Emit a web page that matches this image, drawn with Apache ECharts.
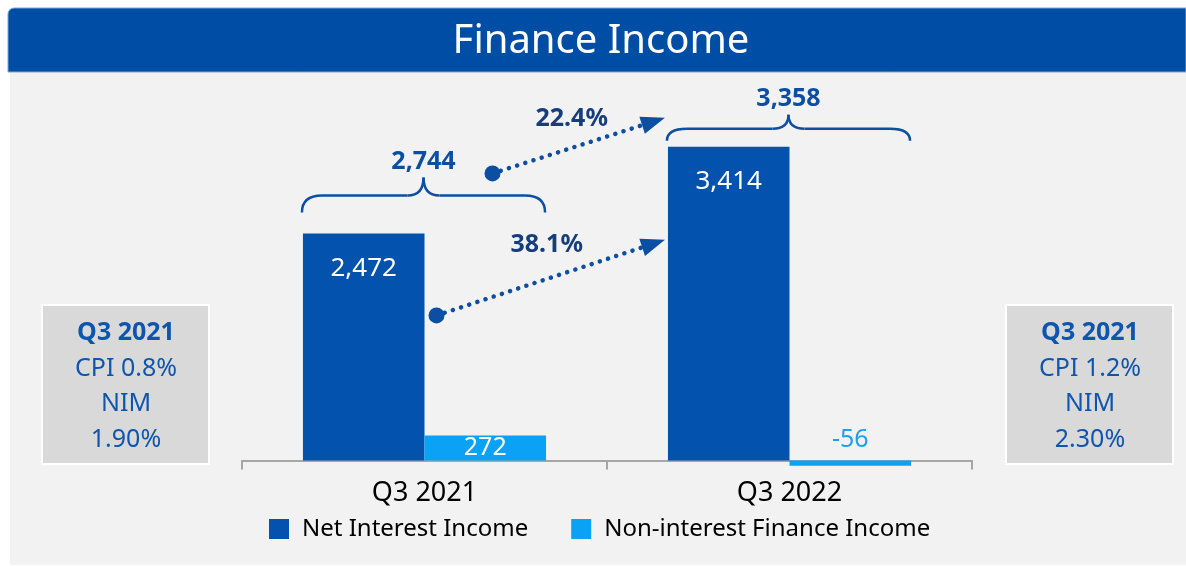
<!DOCTYPE html>
<html>
<head>
<meta charset="utf-8">
<script src="https://cdn.jsdelivr.net/npm/echarts@6/dist/echarts.min.js"></script>
<style>
  html, body { margin: 0; padding: 0; background: #fff; }
  #main { width: 1186px; height: 566px; }
</style>
</head>
<body>
<div id="main"></div>
<script>
// data
const quarters = ['Q3 2021', 'Q3 2022'];
const netInterest = [2472, 3414];
const nonInterest = [272, -56];
const totals = [2744, 3358];
const growthLabels = ['22.4%', '38.1%'];
const leftBox = ['Q3 2021', 'CPI 0.8%', 'NIM', '1.90%'];
const rightBox = ['Q3 2021', 'CPI 1.2%', 'NIM', '2.30%'];

const FONT = 'Noto Sans';
const DARK = '#0352AE';
const LIGHT = '#0BA2F5';
const NAVY = '#0B4EA2';

const chart = echarts.init(document.getElementById('main'));

chart.setOption({
  animation: false,
  backgroundColor: '#fff',
  textStyle: { fontFamily: FONT },
  grid: { left: 242, right: 214, top: 93, bottom: 87 },
  xAxis: {
    type: 'category',
    data: quarters,
    axisLine: { lineStyle: { color: '#A6A6A6', width: 2 } },
    axisTick: { show: true, length: 9, lineStyle: { color: '#A6A6A6', width: 2 } },
    axisLabel: { fontSize: 27, color: '#000', margin: 1, fontFamily: FONT }
  },
  yAxis: {
    type: 'value',
    min: -200,
    max: 4000,
    show: false,
    splitLine: { show: false }
  },
  legend: {
    left: 264,
    top: 512,
    itemWidth: 20,
    itemHeight: 20,
    itemGap: 43,
    icon: 'rect',
    textStyle: { fontSize: 24, color: '#000', fontFamily: FONT, padding: [0, 0, 0, 8] },
    data: ['Net Interest Income', 'Non-interest Finance Income']
  },
  series: [
    {
      name: 'Net Interest Income',
      type: 'bar',
      data: netInterest,
      barGap: '0%',
      barCategoryGap: '33.4%',
      itemStyle: { color: DARK },
      label: {
        show: true,
        position: 'insideTop',
        distance: 22,
        color: '#fff',
        fontSize: 26,
        fontFamily: FONT,
        formatter: p => p.value.toLocaleString('en-US')
      }
    },
    {
      name: 'Non-interest Finance Income',
      type: 'bar',
      data: [
        { value: nonInterest[0], label: { position: 'inside', color: '#fff' } },
        { value: nonInterest[1], label: { position: 'top', distance: 8, color: '#1EA0F0' } }
      ],
      itemStyle: { color: LIGHT },
      label: {
        show: true,
        fontSize: 25,
        fontFamily: FONT,
        formatter: p => p.value.toLocaleString('en-US')
      }
    }
  ]
});

// annotation layout from the chart's own scales
const cx = i => chart.convertToPixel({ xAxisIndex: 0 }, i);
const vy = v => chart.convertToPixel({ yAxisIndex: 0 }, v);
const band = cx(1) - cx(0);
const barW = band * (1 - 0.334) / 2;

const braceLift = [21, 6];
const braceH = [35, 26];
const braceLine = [17, 12];

// curly brace built from quadratic curves and straight lines
function brace(x1, x2, yb, ym, yt) {
  const xm = (x1 + x2) / 2;
  const r = 20, rm = 16;
  const st = { stroke: NAVY, lineWidth: 2.5, fill: null };
  const q = (a, c, b) => ({
    type: 'bezierCurve', z: 50,
    shape: { x1: a[0], y1: a[1], cpx1: c[0], cpy1: c[1], x2: b[0], y2: b[1] },
    style: st
  });
  const l = (a, b) => ({
    type: 'line', z: 50,
    shape: { x1: a[0], y1: a[1], x2: b[0], y2: b[1] },
    style: st
  });
  return [
    q([x1, yb], [x1, ym], [x1 + r, ym]),
    l([x1 + r, ym], [xm - rm, ym]),
    q([xm - rm, ym], [xm, ym], [xm, yt]),
    q([xm, yt], [xm, ym], [xm + rm, ym]),
    l([xm + rm, ym], [x2 - r, ym]),
    q([x2 - r, ym], [x2, ym], [x2, yb])
  ];
}

function arrow(from, to, label, labelOff) {
  const dx = to[0] - from[0], dy = to[1] - from[1];
  const len = Math.sqrt(dx * dx + dy * dy);
  const ux = dx / len, uy = dy / len;
  const headL = 24, headW = 9;
  const bx = to[0] - ux * headL, by = to[1] - uy * headL;
  const mx = (from[0] + to[0]) / 2, my = (from[1] + to[1]) / 2;
  return [
    {
      type: 'line', z: 50,
      shape: { x1: from[0], y1: from[1], x2: bx, y2: by },
      style: { stroke: NAVY, lineWidth: 4.5, lineDash: [0.1, 8.5], lineCap: 'round' }
    },
    { type: 'circle', z: 50, shape: { cx: from[0], cy: from[1], r: 8 }, style: { fill: NAVY } },
    {
      type: 'polygon', z: 50,
      shape: { points: [to, [bx - uy * headW, by + ux * headW], [bx + uy * headW, by - ux * headW]] },
      style: { fill: NAVY }
    },
    {
      type: 'text', z: 50,
      x: mx + labelOff[0], y: my + labelOff[1],
      style: {
        text: label, fill: '#163D7C', fontSize: 25, fontWeight: 'bold', fontFamily: FONT,
        align: 'center', verticalAlign: 'middle'
      }
    }
  ];
}

function sideBox(x, lines) {
  const els = [{
    type: 'rect', z: -5,
    shape: { x: x, y: 305, width: 167, height: 159 },
    style: { fill: '#D9D9D9', stroke: '#fff', lineWidth: 2 }
  }];
  lines.forEach((t, i) => {
    els.push({
      type: 'text', z: 10,
      x: x + 84, y: 333 + i * 35.5,
      style: {
        text: t, fill: '#0E55AE', fontSize: 25, fontFamily: FONT,
        fontWeight: i === 0 ? 'bold' : 'normal',
        align: 'center', verticalAlign: 'middle'
      }
    });
  });
  return els;
}

const els = [
  { type: 'rect', z: -10, shape: { x: 10, y: 72, width: 1176, height: 493 }, style: { fill: '#F2F2F2' } },
  { type: 'rect', z: -9, shape: { x: 8, y: 8, width: 1178, height: 64, r: [6, 0, 0, 0] }, style: { fill: '#004DA6', stroke: '#7FA6D6', lineWidth: 1 } },
  {
    type: 'text', z: 10, x: 601, y: 42,
    style: { text: 'Finance Income', fill: '#fff', fontSize: 40, fontFamily: FONT, align: 'center', verticalAlign: 'middle' }
  }
];
els.push(...sideBox(42, leftBox));
els.push(...sideBox(1006, rightBox));

quarters.forEach((q, i) => {
  const c = cx(i);
  const x1 = c - barW - 1, x2 = c + barW - 1;
  const yb = vy(netInterest[i]) - braceLift[i];
  const yt = yb - braceH[i];
  els.push(...brace(x1, x2, yb, yb - braceLine[i], yt));
  els.push({
    type: 'text', z: 50,
    x: (x1 + x2) / 2, y: yt - 16,
    style: {
      text: totals[i].toLocaleString('en-US'), fill: NAVY, fontSize: 25, fontWeight: 'bold',
      fontFamily: FONT, align: 'center', verticalAlign: 'middle'
    }
  });
});

const arrowEndX = cx(1) - barW - 3;
els.push(...arrow([cx(0) + 68, vy(totals[0]) - 35], [arrowEndX, vy(netInterest[1]) - 29], growthLabels[0], [-7, -27]));
els.push(...arrow([cx(0) + 12, vy(netInterest[0]) + 82], [arrowEndX, vy(netInterest[1]) + 93], growthLabels[1], [-4, -33]));

chart.setOption({ graphic: { elements: els } });
</script>
</body>
</html>
